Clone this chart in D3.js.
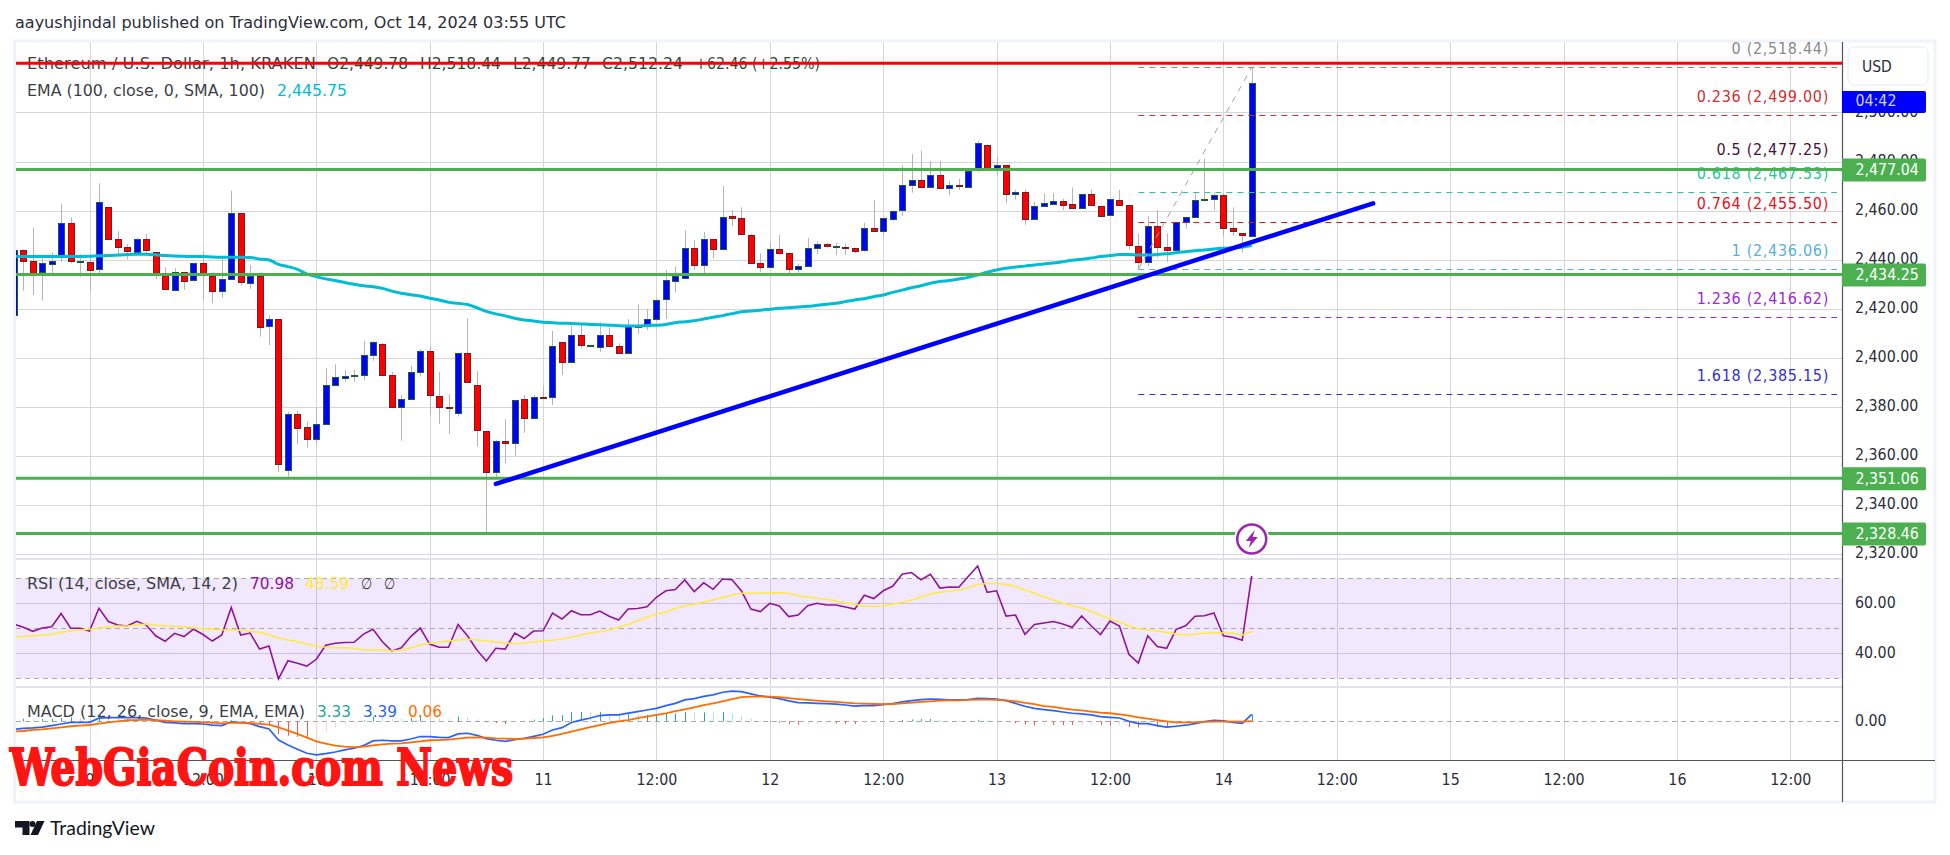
<!DOCTYPE html>
<html>
<head>
<meta charset="utf-8">
<title>ETHUSD</title>
<script src="https://cdn.jsdelivr.net/npm/d3@7"></script>
<style>
html, body { margin: 0; padding: 0; background: #fff; }
svg { display: block; }
text { font-family: "DejaVu Sans Condensed", "DejaVu Sans", sans-serif; font-stretch: condensed; }
.axis path, .axis line { display: none; }
.axis text { fill: #2a2e39; font-size: 15.8px; font-family: "DejaVu Sans Condensed", "DejaVu Sans", sans-serif; font-stretch: condensed; }
</style>
</head>
<body>
<div id="chart"></div>
<script>
// hourly candles, index 0 = Oct 8 16:00
var opens = [2417.3,2443.9,2439.5,2434.8,2438.2,2440.9,2454.8,2439.2,2439.1,2436,
2461.3,2448.2,2445,2443.2,2448.5,2442.9,2434.4,2427.8,2435,2431.4,
2438.4,2433.3,2426.9,2432,2458.8,2430.5,2433.3,2412.6,2415.6,2353.8,
2376.8,2371.5,2366.5,2372.7,2388.5,2391.5,2392.2,2392.6,2400.8,2405.4,
2392.7,2379.5,2382.8,2393.8,2402.5,2384.1,2379.8,2377.1,2401.7,2388.6,
2369.9,2353,2365.8,2364.8,2382.9,2375,2383.8,2383.7,2406.2,2397.9,
2409,2404.9,2404.2,2409,2404.6,2401.6,2412.8,2412.7,2415.6,2423.6,
2431.4,2432.3,2444.6,2437.5,2448.2,2444,2457.6,2456.8,2449.9,2438.4,
2436.7,2444.2,2442.5,2435.9,2437.1,2444.4,2446.2,2445.3,2444.9,2444.7,
2443.6,2452.7,2451.4,2456.8,2459.9,2470.4,2472.3,2469.3,2474.4,2468.9,
2470.4,2469.7,2476.3,2486.7,2477.2,2478.4,2466.5,2467.4,2456.4,2461.5,
2462.8,2463.9,2462.5,2460.7,2466.6,2461.7,2457.9,2464.1,2462.1,2445.4,
2438.7,2453.5,2444.9,2443.6,2455,2457.1,2464.3,2464.4,2466.2,2452.7,
2450.7,2449.78];
var closes = [2443.9,2439.5,2434.8,2438.4,2439.5,2454.8,2439.1,2439.4,2436,2463.3,
2448.2,2445,2443.2,2448.5,2444,2434.4,2427.8,2435,2431.4,2438.4,
2434.4,2427.3,2431.9,2458.8,2430.5,2433.3,2412.6,2415.6,2356.3,2376.8,
2371,2366.5,2372.7,2388.6,2391.9,2392.3,2392.7,2400.9,2406.2,2392.6,
2379.5,2382.9,2394,2402.5,2384.4,2379.5,2379.6,2401.7,2389.7,2370.1,
2353,2365.8,2364.8,2382.5,2375,2383.7,2383.6,2404.6,2397.9,2409,
2404.8,2405,2409,2404.4,2401.6,2412.7,2412.5,2415.6,2423.3,2431.5,
2433.3,2444.6,2437.5,2448.2,2444,2457.2,2456.7,2450.1,2438.3,2436.7,
2444.2,2442.4,2435.9,2437.2,2444.6,2446.2,2445.2,2445.4,2444.4,2443.6,
2452.7,2451.4,2456.8,2460,2470.3,2472.3,2469.3,2474.4,2468.9,2470.3,
2470.2,2476.3,2487.4,2476.5,2478.4,2466.6,2467.4,2456.4,2461.7,2462.9,
2463.9,2462.4,2460.7,2466.6,2462,2457.8,2464.5,2462,2445.6,2438.7,
2453.5,2444.8,2443.6,2455.2,2457.2,2464.1,2464.5,2466.2,2452.7,2451.4,
2449.7,2512.24];
var highs = [2443.9,2444,2453.1,2441.2,2442.9,2462.9,2457.2,2442.2,2441.2,2471.1,
2461.3,2451.6,2446.3,2449,2450.4,2442.9,2436.8,2436.4,2435,2438.6,
2443.2,2434.8,2441.2,2468,2458.8,2437.8,2434.8,2417.3,2415.6,2377.9,
2378.2,2373.8,2379.5,2395.6,2397.2,2394.9,2394.9,2406.7,2406.7,2406,
2394.1,2384.7,2396.5,2403.3,2404.4,2394.1,2385.1,2401.7,2416,2394.5,
2370,2366.3,2374.8,2382.5,2384.7,2384.7,2388.4,2410.8,2406.2,2412.9,
2414,2405.2,2414.4,2412.3,2405.8,2415.6,2421.7,2419.8,2424,2435.7,
2437.1,2452,2448,2451.2,2448.2,2470,2460.2,2461.3,2450.4,2442.5,
2447.1,2450,2442.5,2438.4,2448.8,2447.3,2446.9,2446.9,2446.6,2444.7,
2455,2464.3,2456.8,2460,2478.6,2483,2484.3,2480.2,2480.2,2472,
2472.9,2476.3,2488.4,2487,2482,2478.4,2468.4,2468.6,2463.6,2467,
2467,2464.8,2469.4,2466.6,2468.4,2462,2464.5,2468.4,2462.1,2450.7,
2457.8,2460.2,2450.7,2455.2,2457.2,2467,2481.3,2467,2467,2461.3,
2450.7,2518.44];
var lows = [2417.3,2427.3,2425.5,2423.2,2434.4,2439.1,2438.4,2433,2427.3,2434.4,
2448.2,2441.2,2440.1,2442.5,2441.8,2432,2427.8,2427.8,2427.6,2431,
2423.7,2422.1,2424.4,2432,2429.3,2428,2408.5,2405.1,2353.4,2351.4,
2364.7,2363.2,2364.7,2372.7,2388.5,2390.1,2390.1,2390.6,2398.7,2392.6,
2379.5,2366,2382.8,2392.2,2376.5,2372.9,2368.8,2375.9,2389.7,2363.6,
2328.9,2350.7,2356.8,2359.8,2369.3,2375,2383.6,2380.6,2392.9,2397.9,
2404,2404.7,2402.4,2404.4,2401.6,2401.6,2409.6,2411.2,2415,2415.7,
2426.5,2432.3,2435.7,2434.4,2440.5,2444,2453.7,2450.1,2438.3,2435,
2436.7,2442.4,2434.4,2434.6,2437.1,2442.2,2444.9,2441.8,2441.8,2442.5,
2443.2,2451.4,2449.6,2455.8,2457.8,2467.3,2469.3,2469.3,2468.9,2466.3,
2468.4,2469.7,2475.8,2476,2474.5,2462.9,2464.5,2454.1,2456.4,2461.5,
2462.8,2460.2,2460.7,2460.7,2462,2457.2,2457.9,2462,2444.1,2436.06,
2437.3,2440.8,2439.1,2443.6,2452.6,2457.1,2463.6,2460.2,2449.3,2449.6,
2442.8,2449.77];
var ema = [2441.2,2441.2,2441.2,2441.2,2441.2,2441.2,2441.2,2441.2,2441.3,2441.5,
2441.6,2441.8,2442,2442.1,2442.1,2441.9,2441.6,2441.4,2441.3,2441.2,
2441.2,2441,2440.9,2440.9,2440.9,2440.8,2440.2,2439.8,2438,2437.1,
2436,2434.1,2433,2432.1,2431.4,2430.6,2429.9,2429.3,2428.9,2428.2,
2427.1,2426.2,2425.6,2425.1,2424.2,2423.5,2422.5,2422.1,2421.6,2420.3,
2418.8,2417.8,2417,2416,2415.3,2414.9,2414.4,2414.2,2414,2413.9,
2413.7,2413.5,2413.4,2413.2,2413,2412.9,2412.9,2413.1,2413.2,2413.5,
2414.2,2414.6,2415,2415.7,2416.4,2417.1,2417.9,2418.7,2419,2419.3,
2419.7,2420.1,2420.3,2420.6,2420.9,2421.3,2421.7,2422.1,2422.8,2423.5,
2424,2424.8,2425.5,2426.6,2427.5,2428.5,2429.3,2430.3,2431,2431.4,
2432,2432.7,2433.7,2434.8,2435.7,2436.4,2436.9,2437.3,2437.8,2438.2,
2438.6,2439.1,2439.7,2440.1,2440.6,2441.2,2441.6,2442,2442,2441.8,
2441.8,2442,2442.3,2442.8,2443.2,2443.6,2443.9,2444.3,2444.6,2444.8,
2445,2445.75];
var rsi = [51.6,50.4,48.8,50.1,50.6,55.9,50,50,48.9,58,
52.7,51.3,50.9,52.8,51.3,47,44.8,48,46.7,49.7,
47.5,44.9,47.3,58.3,47.3,48.1,41.7,42.9,29.8,37,
36,34.9,37.6,43.2,44,44.3,44.4,47.7,49.6,44.6,
40.9,42.2,46.7,50.1,43.7,42.4,42.4,51.5,47,41.3,
36.9,42,41.7,48.1,45.9,48.9,49,56.1,53.7,57,
55.4,55.4,56.9,54.8,53.3,57.7,57.9,58.6,62.4,65,
65.5,69.3,64.7,68.2,65.6,69.7,69.4,64.9,57.7,56.7,
60,58.9,54.7,55.3,59,60,59.3,59.3,58.5,57.7,
63.2,61.9,65,66.8,71.6,72.3,69.4,71.6,66.1,66.5,
66.4,70.7,74.9,64.4,65,54.9,55.3,47.6,51.5,52.1,
52.7,51.7,50.4,54.9,51,47.5,52.9,50.9,39.6,36.1,
47,42.7,42,49.6,51,54.8,55,56.1,47,46.4,
45.2,70.98];
var rsiMa = [46.6,46.7,47,47.3,47.6,48.4,48.9,49.3,49.6,50.1,
50.6,50.9,50.9,51.3,51.7,51.2,50.9,50.8,50.6,50.2,
49.8,49.6,49.4,49.3,49.2,48.8,48.3,47.4,46.1,45.3,
44.6,43.7,42.9,42.4,42.2,42.2,42,41.3,41.3,41.3,
41,41.2,42.2,43.3,44,44.4,44.9,45.3,45.6,45.3,
44.9,44.5,44.1,43.8,44.1,44.5,44.9,45.2,45.7,46.4,
47.3,48.1,48.6,49.3,50.4,51.5,53,54.4,55.7,56.5,
57.9,58.9,59.6,60.5,61.3,62.3,63.2,64,64,64,
64.1,64.2,63.9,63,62.5,62,61.6,60.9,60.2,59.6,
58.9,58.7,58.9,59.6,60.4,61.3,62.4,63.7,64.4,64.9,
65.3,66.3,67.5,67.9,67.9,67.5,66.7,65.3,64,62.6,
61.3,60,58.9,58.1,56.8,55.2,53.7,52.6,50.9,49.8,
49.3,48.9,48.3,47.7,47.4,47.6,48,48.3,48.1,48,
47.3,48.59];
var macd = [-3.9,-3.4,-3.2,-2.8,-2.1,-1.3,-0.5,-0.5,-0.5,1.5,
1.8,1.8,1.8,1.8,1.5,0.6,-0.5,-0.8,-1.1,-1.1,
-1.3,-1.9,-2.1,-0.3,-0.6,-1.1,-2.6,-3.7,-9.1,-11.5,
-13.6,-15.5,-16.3,-15.7,-14.9,-13.9,-13.1,-11.8,-9.5,-9.2,
-9.5,-9.5,-8.6,-7.4,-7.4,-7.8,-7.9,-6.1,-5.8,-6.8,
-8.4,-9.2,-9.7,-8.9,-8.3,-7.3,-6.3,-4.2,-3.1,-0.6,
0.6,1.6,2.8,3.1,3.1,4,4.7,5.5,6.3,7.6,
8.7,10.4,11,12.1,12.8,14.1,14.6,14.4,13.3,12.3,
11.7,11,9.9,9.1,8.9,8.7,8.6,8.3,7.9,7.4,
7.6,7.6,8.1,8.6,9.4,10,10.5,10.8,10.7,10.4,
10.4,10.5,11.2,11,10.8,10,8.7,7.3,6.3,5.7,
5.2,4.5,3.9,3.6,3.1,2.3,1.9,1.6,0,-1.1,
-1.1,-2.1,-2.8,-2.4,-1.9,-1.1,-0.2,0.5,0.2,-0.5,
-1,3.39];
var signal = [-5,-4.7,-4.2,-3.9,-3.4,-2.9,-2.4,-2.1,-1.8,-1.1,
-0.5,0,0.5,0.6,0.8,0.5,0.3,0,-0.2,-0.3,
-0.5,-0.6,-1,-0.8,-0.8,-0.8,-1.3,-1.6,-2.9,-4.5,
-6.1,-7.9,-9.7,-10.8,-11.8,-12.3,-12.5,-12.3,-11.7,-11.2,
-10.8,-10.7,-10.2,-9.7,-9.2,-9.1,-8.9,-8.4,-7.9,-7.8,
-7.9,-8.3,-8.4,-8.6,-8.4,-8.1,-7.8,-7.1,-6.1,-5,
-3.9,-2.8,-1.8,-0.8,0,0.6,1.5,2.3,3.1,3.9,
4.9,5.8,6.8,7.8,8.7,9.7,10.8,11.7,12,12,
12,11.7,11.2,10.8,10.4,10,9.7,9.4,9.1,8.7,
8.6,8.4,8.3,8.4,8.7,9.1,9.4,9.7,10,10.2,
10.2,10.4,10.5,10.5,10.4,10.2,9.7,8.9,8.3,7.4,
7,6.3,5.7,5.3,4.7,4.2,3.9,3.4,2.8,1.9,
1.3,0.6,0,-0.5,-0.5,-0.5,-0.3,-0.2,-0.2,-0.2,
-0.2,0.06];
var hist = [1.1,1.3,1,1.1,1.3,1.6,1.9,1.6,1.3,2.6,
2.3,1.8,1.3,1.2,0.7,0.1,-0.8,-0.8,-0.9,-0.8,
-0.8,-1.3,-1.1,0.5,0.2,-0.3,-1.3,-2.1,-6.2,-7,
-7.5,-7.6,-6.6,-4.9,-3.1,-1.6,-0.6,0.5,2.2,2,
1.3,1.2,1.6,2.3,1.8,1.3,1,2.3,2.1,1,
-0.5,-0.9,-1.3,-0.3,0.1,0.8,1.5,2.9,3,4.4,
4.5,4.4,4.6,3.9,3.1,3.4,3.2,3.2,3.2,3.7,
3.8,4.6,4.2,4.3,4.1,4.4,3.8,2.7,1.3,0.3,
-0.3,-0.7,-1.3,-1.7,-1.5,-1.3,-1.1,-1.1,-1.2,-1.3,
-1,-0.8,-0.2,0.2,0.7,0.9,1.1,1.1,0.7,0.2,
0.2,0.1,0.7,0.5,0.4,-0.2,-1,-1.6,-2,-1.7,
-1.8,-1.8,-1.8,-1.7,-1.6,-1.9,-2,-1.8,-2.8,-3,
-2.4,-2.7,-2.8,-1.9,-1.4,-0.6,0.1,0.7,0.4,-0.5,
-1,3.33];

var priceTicks = [2320,2340,2360,2380,2400,2420,2440,2460,2480,2500];
var rsiTicks = [40,60];
var rsiBands = [30,50,70];
var timeTicks = [8,20,32,44,56,68,80,92,104,116,128,140,152,164,176,188];
var timeLabels = ["9","12:00","10","12:00","11","12:00","12","12:00","13","12:00","14","12:00","15","12:00","16","12:00"];

var levelValues = [2477.04,2434.25,2351.06,2328.46];
var redLevel = 2520.08;
var fibRatios = ["0","0.236","0.5","0.618","0.764","1","1.236","1.618"];
var fibValues = [2518.44,2499.00,2477.25,2467.53,2455.50,2436.06,2416.62,2385.15];
var fibColors = ["#8a8a8a","#cf3030","#4a1038","#24c997","#e8101a","#5aaedc","#9c2bd0","#2f2fd8"];
var trendIndex = [51,143.85];
var trendPrice = [2348.4,2462.9];
var fibDiagIndex = [119,131];
var fibDiagPrice = [2436.06,2518.44];

function init() {
    var w = 1950, h = 855;
    var left = 16, right = 1842, outerRight = 1935;
    var top = 42, mainBottom = 559, rsiBottom = 687, macdBottom = 760, frameBottom = 802;

    var svg = d3.select("#chart").append("svg").attr("width", w).attr("height", h);

    var xScale = d3.scaleLinear().domain([8,188]).range([89.5,1790.3]);
    var yPrice = d3.scaleLinear().domain([2460,2320]).range([210.5,553.5]);
    var yRsi = d3.scaleLinear().domain([60,40]).range([603.3,653.3]);
    var yMacd = d3.scaleLinear().domain([0,10]).range([721.3,700.7]);

    function px(v) { return Math.round(v) + 0.5; }

    svg.append("clipPath").attr("id","paneClip").append("rect")
        .attr("x",left).attr("y",top).attr("width",right-left).attr("height",macdBottom-top);

    var pane = svg.append("g").attr("clip-path","url(#paneClip)");

    // outer frame
    svg.append("rect").attr("x",14.5).attr("y",41).attr("width",outerRight-14.5).attr("height",frameBottom-41)
        .attr("fill","none").attr("stroke","#f0f3fa").attr("stroke-width",3);

    // grid
    var gridColor = "#d6d6d8";
    pane.selectAll(".vgrid").data(timeTicks).enter().append("line").attr("class","vgrid")
        .attr("x1",d=>px(xScale(d))).attr("x2",d=>px(xScale(d))).attr("y1",top).attr("y2",macdBottom)
        .attr("stroke",gridColor);
    pane.selectAll(".hgrid").data(priceTicks).enter().append("line").attr("class","hgrid")
        .attr("x1",left).attr("x2",right).attr("y1",d=>px(yPrice(d))).attr("y2",d=>px(yPrice(d)))
        .attr("stroke",gridColor);
    pane.selectAll(".rgrid").data(rsiTicks).enter().append("line").attr("class","rgrid")
        .attr("x1",left).attr("x2",right).attr("y1",d=>px(yRsi(d))).attr("y2",d=>px(yRsi(d)))
        .attr("stroke",gridColor);

    // pane separators
    [mainBottom,rsiBottom].forEach(function(y){
        pane.append("line").attr("x1",left).attr("x2",right).attr("y1",y).attr("y2",y)
            .attr("stroke","#e0e3eb").attr("stroke-width",2);
    });

    // rsi band
    pane.append("rect").attr("x",left).attr("width",right-left)
        .attr("y",yRsi(70)).attr("height",yRsi(30)-yRsi(70))
        .attr("fill","#8e32f0").attr("fill-opacity",0.115);
    pane.selectAll(".rband").data(rsiBands).enter().append("line").attr("class","rband")
        .attr("x1",left).attr("x2",right).attr("y1",d=>px(yRsi(d))).attr("y2",d=>px(yRsi(d)))
        .attr("stroke","#a8a8b0").attr("stroke-dasharray","5,4");

    // macd zero
    pane.append("line").attr("x1",left).attr("x2",right).attr("y1",px(yMacd(0))).attr("y2",px(yMacd(0)))
        .attr("stroke","#a8a8b0").attr("stroke-dasharray","5,4");

    // candles
    var candles = d3.range(opens.length);
    var up = "#0000ff", down = "#ff0000";
    pane.selectAll(".wick").data(candles).enter().append("line").attr("class","wick")
        .attr("x1",i=>px(xScale(i))).attr("x2",i=>px(xScale(i)))
        .attr("y1",i=>yPrice(highs[i])).attr("y2",i=>yPrice(lows[i]))
        .attr("stroke","#b4b5ba");
    pane.selectAll(".body").data(candles).enter().append("rect").attr("class","body")
        .attr("x",i=>Math.round(xScale(i))-2.5)
        .attr("width",6)
        .attr("y",i=>Math.round(yPrice(Math.max(opens[i],closes[i])))+0.5)
        .attr("height",i=>Math.max(Math.round(Math.abs(opens[i]-closes[i])*2.45),1))
        .attr("fill",i=>closes[i]>=opens[i]?up:down)
        .attr("stroke",i=>closes[i]>=opens[i]?"#1f5c3a":"#7a1a22");

    // ema
    var emaLine = d3.line().x((d,i)=>xScale(i)).y(d=>yPrice(d)).curve(d3.curveMonotoneX);
    pane.append("path").datum(ema).attr("d",emaLine).attr("fill","none")
        .attr("stroke","#00bcd4").attr("stroke-width",3);

    // rsi
    var rsiLine = d3.line().x((d,i)=>xScale(i)).y(d=>yRsi(d));
    pane.append("path").datum(rsi).attr("d",rsiLine).attr("fill","none")
        .attr("stroke","#8e1599").attr("stroke-width",1.6);
    pane.append("path").datum(rsiMa).attr("d",rsiLine).attr("fill","none")
        .attr("stroke","#ffeb3b").attr("stroke-width",1.6);

    // macd histogram, lighter when the bar shrinks
    pane.selectAll(".hbar").data(candles).enter().append("line").attr("class","hbar")
        .attr("x1",i=>px(xScale(i))).attr("x2",i=>px(xScale(i)))
        .attr("y1",yMacd(0)).attr("y2",i=>yMacd(hist[i]))
        .attr("stroke",function(i){
            var prev = i>0 ? hist[i-1] : 0;
            if (hist[i]>=0) return hist[i]>=prev ? "#26a69a" : "#b2dfdb";
            return hist[i]<=prev ? "#ff5252" : "#ffcdd2";
        });
    var macdLine = d3.line().x((d,i)=>xScale(i)).y(d=>yMacd(d));
    pane.append("path").datum(macd).attr("d",macdLine).attr("fill","none")
        .attr("stroke","#2962ff").attr("stroke-width",1.7);
    pane.append("path").datum(signal).attr("d",macdLine).attr("fill","none")
        .attr("stroke","#ff6d00").attr("stroke-width",1.8);

    // fib retracement
    var fibStart = xScale(fibDiagIndex[0]);
    var fibEnd = 1837;
    pane.selectAll(".fib").data(fibValues).enter().append("line").attr("class","fib")
        .attr("x1",fibStart).attr("x2",fibEnd).attr("y1",d=>px(yPrice(d))).attr("y2",d=>px(yPrice(d)))
        .attr("stroke",(d,i)=>fibColors[i]).attr("stroke-dasharray","6,5");
    pane.append("line")
        .attr("x1",xScale(fibDiagIndex[0])).attr("y1",yPrice(fibDiagPrice[0]))
        .attr("x2",xScale(fibDiagIndex[1])).attr("y2",yPrice(fibDiagPrice[1]))
        .attr("stroke","#a0a0a6").attr("stroke-dasharray","6,6");
    svg.selectAll(".fibLabel").data(fibValues).enter().append("text").attr("class","fibLabel")
        .attr("x",1829).attr("y",d=>yPrice(d)-13)
        .attr("text-anchor","end").attr("font-size",16).attr("letter-spacing",0.7)
        .attr("fill",(d,i)=>fibColors[i])
        .text((d,i)=>fibRatios[i]+" ("+d3.format(",.2f")(d)+")");

    // horizontal levels
    svg.selectAll(".level").data(levelValues).enter().append("line").attr("class","level")
        .attr("x1",left).attr("x2",right).attr("y1",d=>yPrice(d)+0.8).attr("y2",d=>yPrice(d)+0.8)
        .attr("stroke","#4caf50").attr("stroke-width",3);

    // trend line
    svg.append("line")
        .attr("x1",xScale(trendIndex[0])).attr("y1",yPrice(trendPrice[0]))
        .attr("x2",xScale(trendIndex[1])).attr("y2",yPrice(trendPrice[1]))
        .attr("stroke","#0000ff").attr("stroke-width",4.5).attr("stroke-linecap","round");

    // legends, drawn under the red line
    function legend(x, y, str, color, len) {
        svg.append("text").attr("x",x).attr("y",y).attr("fill",color).attr("font-size",16)
            .attr("textLength",len).attr("lengthAdjust","spacingAndGlyphs").text(str);
    }
    var darkGreen = "#1f4f3a", textGrey = "#3c3f48";
    legend(27,69,"Ethereum / U.S. Dollar, 1h, KRAKEN",textGrey,289);
    legend(327,69,"O2,449.78",darkGreen,81);
    legend(420,69,"H2,518.44",darkGreen,81);
    legend(513,69,"L2,449.77",darkGreen,78);
    legend(602,69,"C2,512.24",darkGreen,81);
    legend(695,69,"+62.46 (+2.55%)",darkGreen,125);
    legend(27,96,"EMA (100, close, 0, SMA, 100)",textGrey,238);
    legend(277,96,"2,445.75","#00bcd4",70);
    legend(27,589,"RSI (14, close, SMA, 14, 2)",textGrey,211);
    legend(250,589,"70.98","#8e1599",44);
    legend(305,589,"48.59","#ffeb3b",44);
    legend(361,589,"\u2205",textGrey,11);
    legend(384,589,"\u2205",textGrey,11);
    legend(27,717,"MACD (12, 26, close, 9, EMA, EMA)",textGrey,278);
    legend(317,717,"3.33","#26a69a",34);
    legend(363,717,"3.39","#2962ff",34);
    legend(408,717,"0.06","#ff6d00",34);

    svg.append("line").attr("x1",left).attr("x2",right).attr("y1",yPrice(redLevel)).attr("y2",yPrice(redLevel))
        .attr("stroke","#ff0000").attr("stroke-width",3);

    // lightning marker on the last bar
    var mx = xScale(131), my = 539;
    var marker = svg.append("g").attr("transform","translate("+mx+","+my+")");
    marker.append("circle").attr("r",17.5).attr("fill","#fff");
    marker.append("circle").attr("r",14.5).attr("fill","#fff").attr("stroke","#9c27b0").attr("stroke-width",2.5);
    marker.append("path").attr("d","M3,-9 L-6,2 L-1,2 L-3,9 L6,-2 L1,-2 Z").attr("fill","#9c27b0");

    // axis lines
    svg.append("line").attr("x1",14.5).attr("x2",outerRight).attr("y1",macdBottom+0.5).attr("y2",macdBottom+0.5)
        .attr("stroke","#50535e").attr("stroke-width",1.2);
    svg.append("line").attr("x1",right+0.5).attr("x2",right+0.5).attr("y1",top).attr("y2",frameBottom)
        .attr("stroke","#50535e").attr("stroke-width",1.2);

    // axes
    svg.append("g").attr("class","axis").attr("transform","translate("+right+",-1)")
        .call(d3.axisRight(yPrice).tickValues(priceTicks).tickSize(0).tickPadding(13).tickFormat(d3.format(",.2f")));
    svg.append("g").attr("class","axis").attr("transform","translate("+right+",-1)")
        .call(d3.axisRight(yRsi).tickValues(rsiTicks).tickSize(0).tickPadding(13).tickFormat(d3.format(".2f")));
    svg.append("g").attr("class","axis").attr("transform","translate("+right+",-1)")
        .call(d3.axisRight(yMacd).tickValues([0]).tickSize(0).tickPadding(13).tickFormat(d3.format(".2f")));
    svg.append("g").attr("class","axis").attr("transform","translate(0,774)")
        .call(d3.axisBottom(xScale).tickValues(timeTicks).tickSize(0).tickPadding(0)
            .tickFormat((d,i)=>timeLabels[i]));

    // price tags
    function tag(y0, y1, color) {
        svg.append("path")
            .attr("d","M"+right+","+y0+" H1924 q2,0 2,2 V"+(y1-2)+" q0,2 -2,2 H"+right+" Z")
            .attr("fill",color);
    }
    levelValues.forEach(function(v){
        var y = yPrice(v) + 0.8;
        tag(y-11,y+12,"#4caf50");
        svg.append("text").attr("x",1855.5).attr("y",y+5.5).attr("fill","#fff").attr("font-size",15.8)
            .text(d3.format(",.2f")(v));
    });
    tag(91,113,"#0000ff");
    svg.append("text").attr("x",1855.5).attr("y",105.5).attr("fill","#d0d0ff").attr("font-size",15.8).text("04:42");

    // currency button
    svg.append("rect").attr("x",1848).attr("y",47).attr("width",80).attr("height",38).attr("rx",6)
        .attr("fill","#fff").attr("stroke","#e6e8ee");
    svg.append("text").attr("x",1862).attr("y",72).attr("fill","#2a2e39").attr("font-size",15.5).text("USD");

    // header and footer
    svg.append("text").attr("x",15).attr("y",28).attr("fill","#2a2e39").attr("font-size",16.5)
        .attr("textLength",551).attr("lengthAdjust","spacingAndGlyphs")
        .text("aayushjindal published on TradingView.com, Oct 14, 2024 03:55 UTC");

    svg.append("path").attr("fill","#131722")
        .attr("d","M15,821 H29.5 V835 H22.5 V827.5 H15 Z M37,821 H44.5 L38,835 H30.5 Z");
    svg.append("circle").attr("cx",32.5).attr("cy",824).attr("r",3).attr("fill","#131722");
    svg.append("text").attr("x",50).attr("y",835).attr("fill","#131722").attr("font-size",19.5)
        .style("font-family","Lato, sans-serif").style("font-stretch","normal")
        .attr("textLength",105).attr("lengthAdjust","spacingAndGlyphs").text("TradingView");

    // watermark on top of everything
    svg.append("text").attr("x",10).attr("y",785).attr("fill","#ff1414").attr("stroke","#ff1414").attr("stroke-width",2)
        .style("font-family",'"DejaVu Serif Condensed", "DejaVu Serif", serif').style("font-weight","bold").attr("font-size",50)
        .attr("textLength",503).attr("lengthAdjust","spacingAndGlyphs").text("WebGiaCoin.com News");
}

window.onload = init;
</script>
</body>
</html>
